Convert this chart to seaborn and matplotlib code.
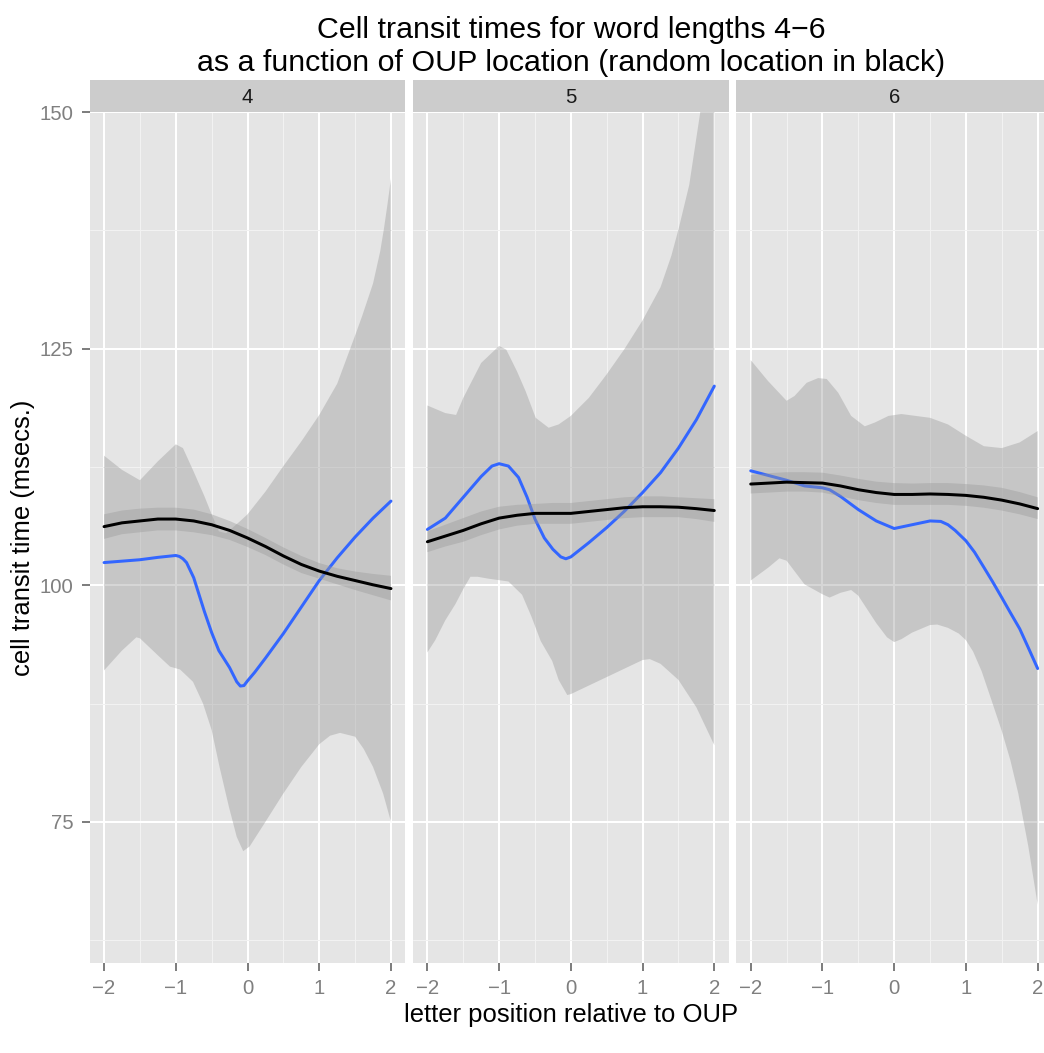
import numpy as np
import pandas as pd
import matplotlib
matplotlib.use('Agg')
import matplotlib.pyplot as plt
import seaborn as sns
from matplotlib.patches import Rectangle
from matplotlib.ticker import MultipleLocator

# --- values ------------------------------------------------------------------
LENGTHS = [4, 5, 6]
TITLE_LINES = ['Cell transit times for word lengths 4\u22126',
               'as a function of OUP location (random location in black)']
X_LABEL = 'letter position relative to OUP'
Y_LABEL = 'cell transit time (msecs.)'

# black smooth (random location), all panels sampled on the same grid
X_GRID = [-2, -1.75, -1.5, -1.25, -1, -0.75, -0.5, -0.25, 0, 0.25, 0.5, 0.75, 1, 1.25, 1.5, 1.75, 2]

RANDOM4_FIT = [106.2, 106.6, 106.8, 107.0, 107.0, 106.8, 106.4, 105.8, 105.0, 104.1, 103.1, 102.2, 101.5, 100.95, 100.5, 100.05, 99.65]
RANDOM4_HI = [107.5, 107.9, 108.1, 108.2, 108.2, 108.0, 107.5, 106.8, 105.95, 105.0, 104.0, 103.1, 102.35, 101.8, 101.45, 101.2, 101.0]
RANDOM4_LO = [104.9, 105.4, 105.6, 105.8, 105.8, 105.6, 105.3, 104.8, 104.05, 103.2, 102.2, 101.3, 100.7, 100.1, 99.5, 98.95, 98.4]

RANDOM5_FIT = [104.6, 105.2, 105.8, 106.5, 107.1, 107.4, 107.6, 107.6, 107.6, 107.8, 108.0, 108.2, 108.3, 108.3, 108.25, 108.1, 107.9]
RANDOM5_HI = [105.7, 106.4, 107.1, 107.8, 108.3, 108.5, 108.6, 108.7, 108.7, 108.9, 109.1, 109.3, 109.4, 109.4, 109.3, 109.2, 109.1]
RANDOM5_LO = [103.5, 104.1, 104.6, 105.3, 105.9, 106.3, 106.5, 106.5, 106.5, 106.7, 106.9, 107.1, 107.2, 107.2, 107.2, 107.0, 106.7]

RANDOM6_FIT = [110.7, 110.8, 110.9, 110.85, 110.8, 110.5, 110.1, 109.8, 109.6, 109.6, 109.65, 109.6, 109.5, 109.3, 109.0, 108.6, 108.1]
RANDOM6_HI = [111.65, 111.85, 111.95, 111.95, 111.9, 111.6, 111.25, 110.95, 110.8, 110.75, 110.8, 110.8, 110.7, 110.55, 110.3, 109.85, 109.3]
RANDOM6_LO = [109.7, 109.8, 109.9, 109.9, 109.8, 109.4, 109.0, 108.7, 108.5, 108.5, 108.5, 108.5, 108.4, 108.2, 107.9, 107.5, 107.0]

# blue smooth (OUP location)
OUP4_FIT_X = [-2, -1.5, -1.25, -1, -0.95, -0.9, -0.85, -0.75, -0.6, -0.5, -0.4, -0.25, -0.15, -0.1, -0.05, 0, 0.1, 0.25, 0.5, 0.75, 1, 1.25, 1.5, 1.75, 2]
OUP4_FIT = [102.4, 102.7, 102.95, 103.15, 103.05, 102.8, 102.4, 100.8, 97.2, 95.0, 93.1, 91.3, 89.8, 89.35, 89.4, 89.9, 90.8, 92.3, 94.9, 97.7, 100.5, 102.9, 105.1, 107.1, 108.9]
OUP4_HI_X = [-2, -1.75, -1.5, -1.25, -1, -0.9, -0.75, -0.6, -0.5, -0.4, -0.3, -0.25, -0.1, 0, 0.25, 0.5, 0.75, 1, 1.25, 1.5, 1.6, 1.75, 1.85, 1.9, 1.95, 2]
OUP4_HI = [113.7, 112.2, 111.1, 113.1, 114.9, 114.5, 112.0, 109.4, 107.5, 105.7, 105.5, 105.8, 106.8, 107.5, 109.9, 112.6, 115.2, 118.0, 121.3, 126.4, 128.5, 131.9, 135.3, 137.6, 140.2, 143.0]
OUP4_LO_X = [-2, -1.75, -1.55, -1.5, -1.25, -1.08, -0.94, -0.76, -0.62, -0.5, -0.39, -0.26, -0.15, -0.06, 0.03, 0.25, 0.5, 0.75, 1, 1.15, 1.29, 1.5, 1.62, 1.75, 1.89, 2]
OUP4_LO = [91.0, 93.1, 94.5, 94.4, 92.6, 91.4, 91.1, 89.8, 87.5, 84.7, 80.8, 76.6, 73.4, 71.9, 72.4, 75.0, 78.0, 80.8, 83.2, 84.1, 84.4, 84.0, 82.7, 80.8, 78.0, 75.0]

OUP5_FIT_X = [-2, -1.75, -1.5, -1.25, -1.1, -1, -0.87, -0.73, -0.61, -0.5, -0.37, -0.25, -0.14, -0.07, 0, 0.25, 0.5, 0.75, 1, 1.25, 1.5, 1.75, 2]
OUP5_FIT = [105.9, 107.1, 109.3, 111.5, 112.6, 112.85, 112.6, 111.4, 109.3, 107.0, 105.0, 103.8, 103.0, 102.8, 103.0, 104.5, 106.1, 107.85, 109.8, 111.9, 114.5, 117.5, 121.05]
OUP5_HI_X = [-2, -1.75, -1.6, -1.5, -1.25, -1, -0.9, -0.75, -0.63, -0.49, -0.31, -0.17, 0, 0.25, 0.5, 0.75, 1, 1.25, 1.4, 1.5, 1.65, 1.8, 1.9, 2]
OUP5_HI = [119.0, 118.2, 118.0, 119.8, 123.5, 125.3, 124.9, 122.6, 120.5, 117.7, 116.65, 117.0, 117.9, 119.8, 122.3, 125.0, 128.0, 131.5, 134.8, 137.6, 142.3, 149.8, 155.0, 161.0]
OUP5_LO_X = [-2, -1.89, -1.75, -1.61, -1.5, -1.4, -1.3, -1.15, -0.87, -0.68, -0.55, -0.42, -0.26, -0.17, -0.05, 0, 0.25, 0.5, 0.75, 1, 1.1, 1.25, 1.5, 1.75, 2]
OUP5_LO = [92.9, 94.2, 96.3, 98.0, 99.6, 100.9, 100.9, 100.7, 100.4, 99.0, 96.7, 94.1, 92.0, 90.0, 88.4, 88.5, 89.4, 90.3, 91.2, 92.1, 92.2, 91.7, 90.0, 87.1, 83.1]

OUP6_FIT_X = [-2, -1.75, -1.5, -1.25, -1, -0.9, -0.75, -0.5, -0.25, 0, 0.25, 0.5, 0.65, 0.75, 0.85, 1, 1.12, 1.25, 1.37, 1.5, 1.62, 1.75, 1.87, 2]
OUP6_FIT = [112.1, 111.6, 111.1, 110.5, 110.3, 110.1, 109.4, 108.0, 106.8, 106.0, 106.4, 106.8, 106.75, 106.4, 105.8, 104.7, 103.5, 101.9, 100.4, 98.7, 97.1, 95.4, 93.4, 91.2]
OUP6_HI_X = [-2, -1.76, -1.5, -1.39, -1.22, -1.06, -0.94, -0.78, -0.6, -0.41, -0.27, -0.08, 0.1, 0.5, 0.75, 1, 1.25, 1.5, 1.75, 2]
OUP6_HI = [123.8, 121.6, 119.5, 120.0, 121.4, 121.9, 121.8, 120.35, 117.9, 116.8, 117.2, 117.9, 118.1, 117.7, 117.0, 115.8, 114.7, 114.5, 115.1, 116.3]
OUP6_LO_X = [-2, -1.75, -1.6, -1.5, -1.25, -1, -0.9, -0.75, -0.6, -0.5, -0.25, -0.1, 0, 0.1, 0.25, 0.5, 0.6, 0.75, 0.9, 1, 1.1, 1.22, 1.35, 1.5, 1.62, 1.73, 1.87, 2]
OUP6_LO = [100.5, 101.9, 102.85, 102.6, 100.1, 99.05, 98.7, 99.2, 99.5, 98.9, 96.0, 94.5, 94.0, 94.3, 95.0, 95.8, 95.85, 95.5, 94.9, 94.2, 93.0, 90.9, 88.0, 84.6, 81.5, 78.0, 72.4, 66.25]

BLUE = '#3366FF'
RIBBON = '#999999'
W, H = 1044, 1053

SERIES = {
    (4, 'oup', 'fit'): (OUP4_FIT_X, OUP4_FIT),
    (4, 'oup', 'upper'): (OUP4_HI_X, OUP4_HI),
    (4, 'oup', 'lower'): (OUP4_LO_X, OUP4_LO),
    (4, 'random', 'fit'): (X_GRID, RANDOM4_FIT),
    (4, 'random', 'upper'): (X_GRID, RANDOM4_HI),
    (4, 'random', 'lower'): (X_GRID, RANDOM4_LO),
    (5, 'oup', 'fit'): (OUP5_FIT_X, OUP5_FIT),
    (5, 'oup', 'upper'): (OUP5_HI_X, OUP5_HI),
    (5, 'oup', 'lower'): (OUP5_LO_X, OUP5_LO),
    (5, 'random', 'fit'): (X_GRID, RANDOM5_FIT),
    (5, 'random', 'upper'): (X_GRID, RANDOM5_HI),
    (5, 'random', 'lower'): (X_GRID, RANDOM5_LO),
    (6, 'oup', 'fit'): (OUP6_FIT_X, OUP6_FIT),
    (6, 'oup', 'upper'): (OUP6_HI_X, OUP6_HI),
    (6, 'oup', 'lower'): (OUP6_LO_X, OUP6_LO),
    (6, 'random', 'fit'): (X_GRID, RANDOM6_FIT),
    (6, 'random', 'upper'): (X_GRID, RANDOM6_HI),
    (6, 'random', 'lower'): (X_GRID, RANDOM6_LO),
}

df = pd.concat([pd.DataFrame({'length': k[0], 'series': k[1], 'part': k[2], 'x': xs, 'y': ys})
                for k, (xs, ys) in SERIES.items()], ignore_index=True)


def draw_panel(data, **kwargs):
    # blue ribbon + line first, then black ribbon + line on top (ggplot layer order)
    ax = plt.gca()
    for series, colour, z in (('oup', BLUE, 2), ('random', 'black', 4)):
        s = data[data['series'] == series]
        hi = s[s['part'] == 'upper'].sort_values('x')
        lo = s[s['part'] == 'lower'].sort_values('x', ascending=False)
        ax.fill(np.r_[hi['x'].values, lo['x'].values], np.r_[hi['y'].values, lo['y'].values],
                color=RIBBON, alpha=0.4, lw=0, zorder=z - 1)
        sns.lineplot(data=s[s['part'] == 'fit'], x='x', y='y', color=colour, lw=1.5,
                     estimator=None, sort=True, ax=ax, zorder=z)


sns.set_theme(style='darkgrid', rc={
    'axes.facecolor': '#E5E5E5', 'figure.facecolor': 'white',
    'grid.color': 'white', 'grid.linewidth': 1.0,
    'xtick.bottom': True, 'ytick.left': True,
    'xtick.color': '#7F7F7F', 'ytick.color': '#7F7F7F',
    'xtick.labelcolor': '#7F7F7F', 'ytick.labelcolor': '#7F7F7F',
    'xtick.major.size': 4, 'ytick.major.size': 4,
    'xtick.major.width': 1, 'ytick.major.width': 1,
    'xtick.labelsize': 10.2, 'ytick.labelsize': 10.2,
    'xtick.major.pad': 4, 'ytick.major.pad': 4,
})
plt.rcParams['font.family'] = ['Liberation Sans', 'DejaVu Sans']

g = sns.FacetGrid(df, col='length', col_order=LENGTHS, sharex=True, sharey=True, despine=False)
g.map_dataframe(draw_panel)
g.set_titles(template='')
g.set_axis_labels('', '')

fig = g.figure
fig.set_size_inches(W / 144, H / 144)
fig.subplots_adjust(left=89.7 / W, right=1052 / W, bottom=1 - 963 / H, top=1 - 112 / H,
                    wspace=7.7 / 315.6)

strip_h = 32 / 851
for i, (ax, length) in enumerate(zip(g.axes.flat, LENGTHS)):
    ax.set_xlim(-2.2, 2.2)
    ax.set_ylim(60.08, 150.02)
    ax.xaxis.set_major_locator(MultipleLocator(1))
    ax.xaxis.set_minor_locator(MultipleLocator(0.5))
    ax.yaxis.set_major_locator(MultipleLocator(25))
    ax.yaxis.set_minor_locator(MultipleLocator(12.5))
    ax.grid(which='major', color='white', lw=1.0)
    ax.grid(which='minor', color='#F2F2F2', lw=0.5)
    ax.tick_params(which='minor', length=0)
    ax.set_axisbelow(True)
    for sp in ax.spines.values():
        sp.set_visible(False)
    if i > 0:
        ax.tick_params(axis='y', left=False, labelleft=False)
    # facet strip
    ax.add_patch(Rectangle((0, 1), 1, strip_h, transform=ax.transAxes, clip_on=False,
                           facecolor='#CCCCCC', edgecolor='none'))
    ax.text(0.5, 1 + strip_h / 2, str(length), transform=ax.transAxes, ha='center',
            va='center_baseline', fontsize=10.2, color='#1A1A1A')

fig.text(571 / W, 1 - 38.3 / H, TITLE_LINES[0], ha='center', va='baseline', fontsize=15.2, color='black')
fig.text(571 / W, 1 - 70.7 / H, TITLE_LINES[1], ha='center', va='baseline', fontsize=15.2, color='black')
fig.text(571 / W, 1 - 1022 / H, X_LABEL, ha='center', va='baseline', fontsize=12.8, color='black')
fig.text(23 / W, 1 - 537.5 / H, Y_LABEL, ha='center', va='center', rotation=90, fontsize=12.8, color='black')

fig.savefig('out.png', dpi=144)
